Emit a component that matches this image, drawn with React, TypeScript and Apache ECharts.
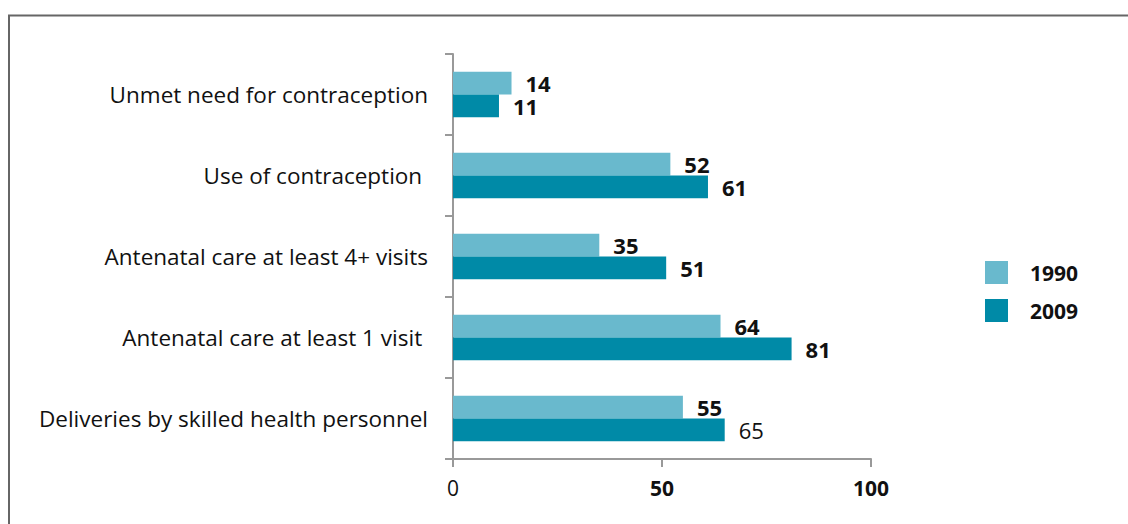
import React, { useEffect, useRef } from "react";
import * as echarts from "echarts";

const categories = [
  "Unmet need for contraception",
  "Use of contraception ",
  "Antenatal care at least 4+ visits",
  "Antenatal care at least 1 visit ",
  "Deliveries by skilled health personnel",
];
const values1990 = [14, 52, 35, 64, 55];
const values2009 = [11, 61, 51, 81, 65];
const seriesNames = ["1990", "2009"];
const xTicks = [0, 50, 100];

const FONT = "'Open Sans', 'Noto Sans', sans-serif";
const LIGHT = "#69b9cd";
const DARK = "#008aa7";

export default function App() {
  const ref = useRef<HTMLDivElement>(null);
  useEffect(() => {
    if (!ref.current) return;
    const chart = echarts.init(ref.current, null, { renderer: "svg" });
    const labelBase = {
      show: true,
      position: "right",
      distance: 14,
      fontFamily: FONT,
      fontSize: 22,
      lineHeight: 18,
      fontWeight: "bold",
      color: "#111",
    };
    chart.setOption({
      animation: false,
      backgroundColor: "#fff",
      textStyle: { fontFamily: FONT },
      graphic: [
        {
          type: "rect",
          shape: { x: 9, y: 15.5, width: 1300, height: 700 },
          style: { fill: "none", stroke: "#666", lineWidth: 2 },
        },
      ],
      grid: { left: 453, right: 257, top: 54, bottom: 65, containLabel: false },
      legend: {
        orient: "vertical",
        left: 980,
        top: 256,
        itemWidth: 23,
        itemHeight: 23,
        itemGap: 15,
        icon: "rect",
        data: seriesNames,
        textStyle: {
          fontFamily: FONT,
          fontSize: 21,
          fontWeight: "bold",
          color: "#111",
          padding: [0, 0, 0, 17],
        },
      },
      xAxis: {
        type: "value",
        min: xTicks[0],
        max: xTicks[xTicks.length - 1],
        interval: 50,
        axisLine: { show: true, lineStyle: { color: "#999", width: 2 } },
        axisTick: { show: true, length: 8, lineStyle: { color: "#999", width: 2 } },
        splitLine: { show: false },
        axisLabel: {
          margin: 18,
          fontFamily: FONT,
          fontSize: 21,
          color: "#111",
          formatter: (v: number) => (v === 0 ? "{n|" + v + "}" : "{b|" + v + "}"),
          rich: {
            n: { fontFamily: FONT, fontSize: 21, fontWeight: "normal", color: "#111" },
            b: { fontFamily: FONT, fontSize: 21, fontWeight: "bold", color: "#111" },
          },
        },
      },
      yAxis: {
        type: "category",
        inverse: true,
        data: categories,
        axisLine: { show: true, lineStyle: { color: "#999", width: 2 } },
        axisTick: { show: true, length: 8, alignWithLabel: false, lineStyle: { color: "#999", width: 2 } },
        axisLabel: {
          margin: 25,
          fontFamily: FONT,
          fontSize: 22.5,
          color: "#111",
          padding: [0, 0, 5, 0],
        },
      },
      series: [
        {
          name: seriesNames[0],
          type: "bar",
          data: values1990,
          barGap: "0%",
          barCategoryGap: "44%",
          itemStyle: { color: LIGHT },
          label: labelBase,
        },
        {
          name: seriesNames[1],
          type: "bar",
          data: values2009.map((v, i) =>
            i === values2009.length - 1 ? { value: v, label: { fontWeight: "normal" } } : v
          ),
          barGap: "0%",
          barCategoryGap: "44%",
          itemStyle: { color: DARK },
          label: labelBase,
        },
      ],
    });
    return () => chart.dispose();
  }, []);
  return (
    <div
      ref={ref}
      style={{ position: "absolute", left: 0, top: 0, width: 1128, height: 524 }}
    />
  );
}
